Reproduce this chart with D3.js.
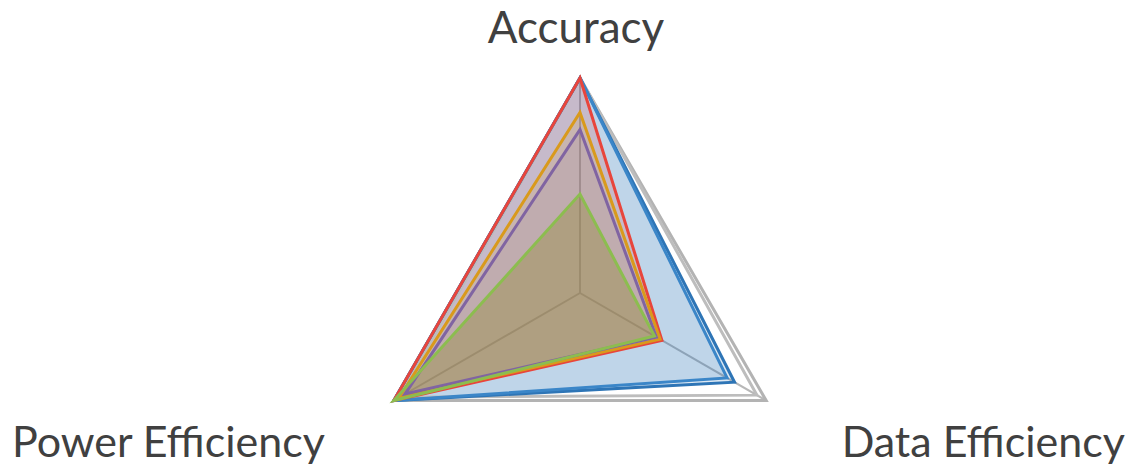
<!DOCTYPE html>
<html>
<head>
<meta charset="utf-8">
<script src="https://cdn.jsdelivr.net/npm/d3@7"></script>
<style>
  body { margin: 0; background: #fff; }
  text { font-family: Lato, "Open Sans", sans-serif; fill: #404040; }
</style>
</head>
<body>
<svg class="radar"></svg>
<script>
// axes, clockwise from the top
const axes = ["Accuracy", "Data Efficiency", "Power Efficiency"];

// values per series: [accuracy, data efficiency, power efficiency]
const greyVals   = [1.0, 0.95, 0.97];
const blueVals   = [1.0, 0.83, 1.0];
const blue2Vals  = [1.0, 0.79, 1.0];
const redVals    = [1.0, 0.44, 1.0];
const orangeVals = [0.84, 0.43, 0.97];
const purpleVals = [0.76, 0.41, 0.94];
const greenVals  = [0.46, 0.40, 1.0];

const seriesList = [
  { name: "grey",   values: greyVals,   stroke: "#bdbdbd", fill: "none" },
  { name: "blue",   values: blueVals,   stroke: "#2e75b6", fill: "#2e75b6" },
  { name: "blue2",  values: blue2Vals,  stroke: "#3b86c8", fill: "#2e75b6" },
  { name: "red",    values: redVals,    stroke: "#e8453c", fill: "#e8453c" },
  { name: "orange", values: orangeVals, stroke: "#d99a1c", fill: "#d99a1c" },
  { name: "purple", values: purpleVals, stroke: "#8064a2", fill: "#8064a2" },
  { name: "green",  values: greenVals,  stroke: "#8cbd4f", fill: "#968c3c" }
];

const width = 1134, height = 474;
const cx = 580, cy = 293, R = 215;

const svg = d3.select(".radar")
  .attr("width", width)
  .attr("height", height);

const rScale = d3.scaleLinear().domain([0, 1]).range([0, R]);
const angle = d3.scalePoint().domain(axes).range([0, 2 * Math.PI * 2 / 3]);

const g = svg.append("g").attr("transform", `translate(${cx} ${cy})`);

const radial = d3.lineRadial()
  .angle((d, i) => angle(axes[i]))
  .radius(d => rScale(d))
  .curve(d3.curveLinearClosed);

// spokes
axes.forEach(a => {
  const p = d3.pointRadial(angle(a), rScale(1));
  g.append("line")
    .attr("x1", 0).attr("y1", 0)
    .attr("x2", p[0]).attr("y2", p[1])
    .attr("stroke", "#b8b8b8")
    .attr("stroke-width", 2);
});

// outer grid triangle
g.append("path")
  .attr("d", radial(axes.map(() => 1)))
  .attr("fill", "none")
  .attr("stroke", "#b3b3b3")
  .attr("stroke-width", 3);

const fillOpacity = { blue: 0.17, blue2: 0.17, red: 0.18, orange: 0.15, purple: 0.1, green: 0.4 };

// fills
g.selectAll("path.area")
  .data(seriesList.filter(s => s.fill !== "none"))
  .enter()
  .append("path")
  .attr("class", "area")
  .attr("d", s => radial(s.values))
  .attr("fill", s => s.fill)
  .attr("fill-opacity", s => fillOpacity[s.name])
  .attr("stroke", "none");

// outlines
g.selectAll("path.outline")
  .data(seriesList)
  .enter()
  .append("path")
  .attr("class", "outline")
  .attr("d", s => radial(s.values))
  .attr("fill", "none")
  .attr("stroke", s => s.stroke)
  .attr("stroke-width", 3)
  .attr("stroke-linejoin", "miter");

// axis labels
svg.append("text")
  .attr("x", 576).attr("y", 43)
  .attr("text-anchor", "middle")
  .attr("font-size", 44)
  .text(axes[0]);

svg.append("text")
  .attr("x", 1125).attr("y", 457)
  .attr("text-anchor", "end")
  .attr("font-size", 43)
  .text(axes[1]);

svg.append("text")
  .attr("x", 12).attr("y", 457)
  .attr("text-anchor", "start")
  .attr("font-size", 43)
  .text(axes[2]);
</script>
</body>
</html>
